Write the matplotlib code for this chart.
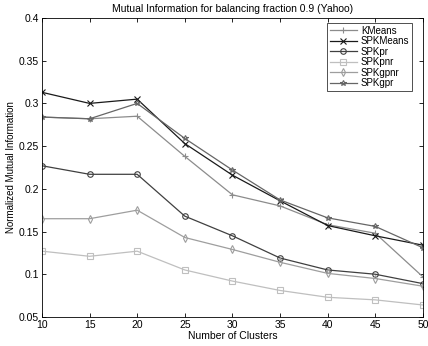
import matplotlib
matplotlib.use("Agg")
import matplotlib.pyplot as plt

plt.rcParams["font.family"] = ["Liberation Sans", "DejaVu Sans"]

clusters = [10, 15, 20, 25, 30, 35, 40, 45, 50]

kmeans = [0.284, 0.282, 0.285, 0.238, 0.193, 0.180, 0.158, 0.148, 0.097]
spkmeans = [0.313, 0.300, 0.305, 0.253, 0.216, 0.186, 0.157, 0.145, 0.134]
spkpr = [0.227, 0.217, 0.217, 0.168, 0.145, 0.119, 0.105, 0.100, 0.089]
spkpnr = [0.127, 0.121, 0.127, 0.105, 0.092, 0.081, 0.073, 0.070, 0.064]
spkgpnr = [0.165, 0.165, 0.175, 0.143, 0.129, 0.114, 0.101, 0.095, 0.086]
spkgpr = [0.284, 0.282, 0.300, 0.259, 0.222, 0.187, 0.166, 0.156, 0.131]

series = [
    ("KMeans", kmeans, "+", "0.55"),
    ("SPKMeans", spkmeans, "x", "0.1"),
    ("SPKpr", spkpr, "o", "0.25"),
    ("SPKpnr", spkpnr, "s", "0.75"),
    ("SPKgpnr", spkgpnr, "d", "0.62"),
    ("SPKgpr", spkgpr, "*", "0.4"),
]

fig = plt.figure(figsize=(4.28, 3.46), dpi=100)
ax = fig.add_axes([0.098, 0.084, 0.89, 0.864])

for name, vals, marker, color in series:
    ax.plot(clusters, vals, marker=marker, color=color, linewidth=0.9,
            markersize=4, markerfacecolor="none", markeredgecolor=color,
            markeredgewidth=0.8, label=name)

ax.set_xlim(10, 50)
ax.set_ylim(0.05, 0.4)
ax.set_xticks(clusters)
ax.set_yticks([0.05, 0.1, 0.15, 0.2, 0.25, 0.3, 0.35, 0.4])
ax.set_yticklabels(["0.05", "0.1", "0.15", "0.2", "0.25", "0.3", "0.35", "0.4"])
ax.tick_params(direction="in", top=True, right=True, labelsize=7.5,
               length=3, width=0.6, pad=2)
for s in ax.spines.values():
    s.set_linewidth(0.6)

ax.set_xlabel("Number of Clusters", fontsize=7.5, labelpad=1)
ax.set_ylabel("Normalized Mutual Information", fontsize=7, labelpad=2)
ax.set_title("Mutual Information for balancing fraction 0.9 (Yahoo)",
             fontsize=7.5, pad=4)

leg = ax.legend(loc="upper right", fontsize=7, frameon=True, fancybox=False,
                edgecolor="black", borderpad=0.3, labelspacing=0.05,
                handlelength=2.8, handletextpad=0.4, borderaxespad=0.5,
                bbox_to_anchor=(0.985, 1.0))
leg.get_frame().set_linewidth(0.6)

fig.savefig("out.png", dpi=100)
